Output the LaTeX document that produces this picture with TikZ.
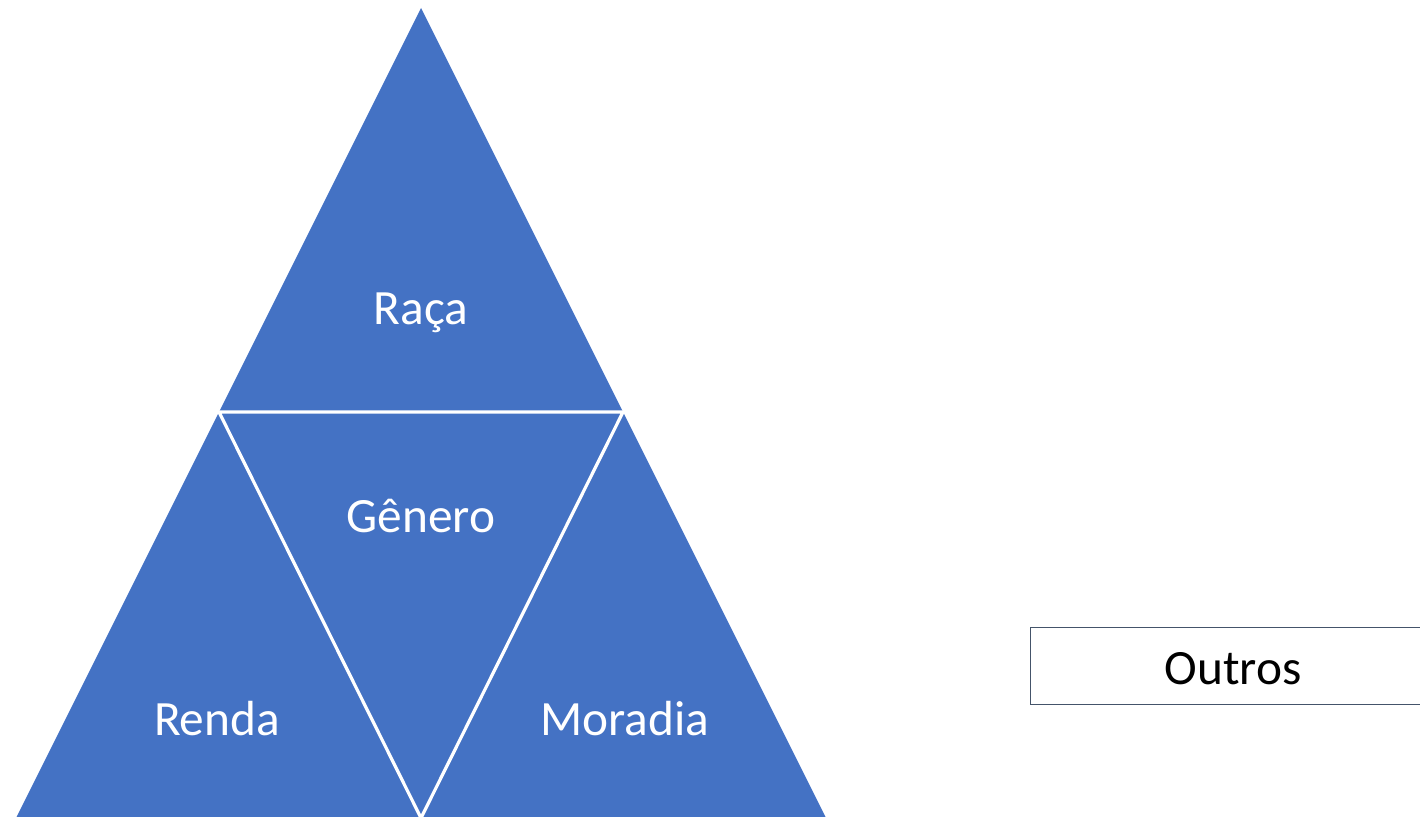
\documentclass[tikz,border=0pt]{standalone}
\usepackage{fontspec}
\setmainfont{Carlito}
\definecolor{triblue}{HTML}{4472C4}
\definecolor{boxline}{HTML}{44546A}
\begin{document}
\begin{tikzpicture}[x=0.75pt,y=-0.75pt,
  lbl/.style={text=white,font=\fontsize{37}{44}\selectfont,inner sep=0pt}]
\useasboundingbox (0,0) rectangle (1420,817);
\clip (0,0) rectangle (1420,817);
\fill[triblue] (421,8) -- (16,818) -- (826,818) -- cycle;
\draw[white,line width=2.4pt] (219,412) -- (623,412) -- (421,818) -- cycle;
\node[lbl] (raca) at (421,313) {Raça};
\node[lbl] (genero) at (421,516) {Gênero};
\node[lbl] (renda) at (217,719) {Renda};
\node[lbl] (moradia) at (625,719) {Moradia};
\draw[boxline,line width=1.1pt] (1030.5,627.5) rectangle (1430,704.5);
\node[inner sep=0pt,font=\fontsize{37}{44}\selectfont] (outros) at (1233,669) {Outros};
\end{tikzpicture}
\end{document}
